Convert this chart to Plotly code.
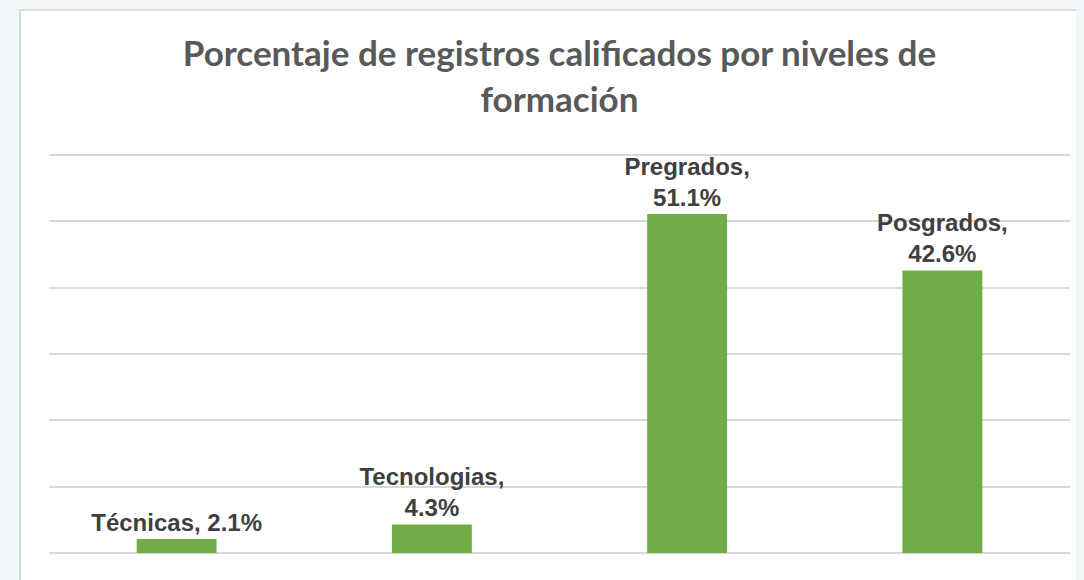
import plotly.graph_objects as go

niveles = ['Técnicas', 'Tecnologias', 'Pregrados', 'Posgrados']
porcentajes = [2.1, 4.3, 51.1, 42.6]
separadores = [' ', '<br>', '<br>', '<br>']

etiquetas = [f'{n},{s}{p}%' for n, s, p in zip(niveles, separadores, porcentajes)]

fig = go.Figure()
fig.add_trace(
    go.Bar(
        x=niveles,
        y=porcentajes,
        text=etiquetas,
        textposition='outside',
        constraintext='none',
        cliponaxis=False,
        marker_color='#70AD47',
        marker_line_width=0,
        textfont=dict(family='Liberation Sans, Arial', size=24, color='#404040', weight='bold'),
        hoverinfo='x+y',
    )
)

# marco blanco del gráfico
fig.add_shape(
    type='rect', xref='paper', yref='paper',
    x0=-0.0284, x1=1.2, y0=-0.3, y1=1.3575,
    fillcolor='white', line=dict(color='#d9d9d9', width=2), layer='below',
)

fig.update_layout(
    title=dict(
        text='<b>Porcentaje de registros calificados por niveles de<br>formación</b>',
        x=0.5, xref='paper', xanchor='center',
        y=1 - 58 / 572, yref='container', yanchor='middle',
        font=dict(family='Lato, Noto Sans', size=35, color='#595959'),
    ),
    width=1076,
    height=572,
    margin=dict(l=41, r=14, t=145, b=27),
    paper_bgcolor='#f1f6f9',
    plot_bgcolor='white',
    bargap=0.687,
    showlegend=False,
    xaxis=dict(showticklabels=False, showgrid=False, zeroline=False, showline=False),
    yaxis=dict(
        range=[0, 60.3], dtick=10, showticklabels=False,
        showgrid=True, gridcolor='#d9d9d9', gridwidth=1.5,
        zeroline=True, zerolinecolor='#d9d9d9', zerolinewidth=1.5,
    ),
)

fig.write_html('out.html', post_script="document.body.style.background='#f1f6f9';")
